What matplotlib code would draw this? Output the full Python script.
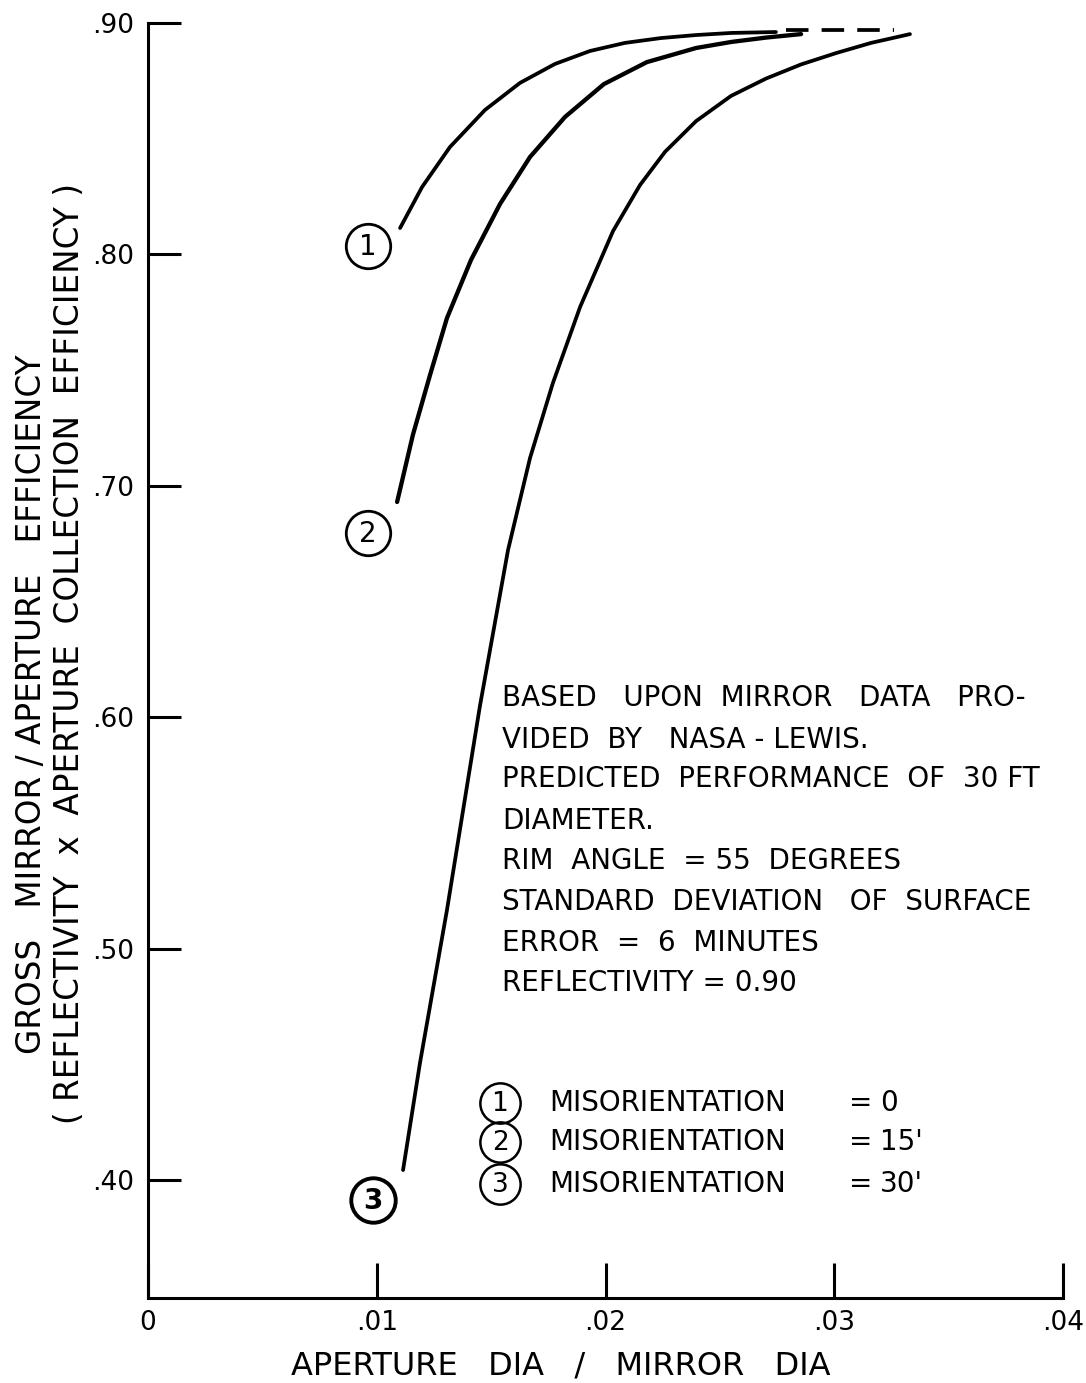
import matplotlib
matplotlib.use("Agg")
import matplotlib.pyplot as plt

# ---------------- data ----------------
curve1_x = [0.01102, 0.01198, 0.01320, 0.01473, 0.01626, 0.01779, 0.01932,
            0.02085, 0.02243, 0.02396, 0.02549, 0.02745]
curve1_y = [0.8114, 0.8291, 0.8464, 0.8624, 0.8741, 0.8823, 0.8879,
            0.8914, 0.8935, 0.8948, 0.8957, 0.8961]

curve2_x = [0.01089, 0.01158, 0.01233, 0.01307, 0.01412, 0.01539, 0.01670,
            0.01823, 0.01993, 0.02181, 0.02396, 0.02549, 0.02702, 0.02855]
curve2_y = [0.6930, 0.7220, 0.7479, 0.7725, 0.7976, 0.8218, 0.8421,
            0.8594, 0.8736, 0.8831, 0.8892, 0.8918, 0.8937, 0.8952]

curve3_x = [0.01115, 0.01189, 0.01307, 0.01451, 0.01574, 0.01670, 0.01770,
            0.01889, 0.02033, 0.02151, 0.02260, 0.02396, 0.02549, 0.02702,
            0.02855, 0.03008, 0.03161, 0.03331]
curve3_y = [0.4043, 0.4506, 0.5167, 0.6048, 0.6723, 0.7120, 0.7444,
            0.7773, 0.8101, 0.8300, 0.8443, 0.8576, 0.8685, 0.8760,
            0.8821, 0.8870, 0.8914, 0.8952]

dash_x = [0.0279, 0.0326]
dash_y = [0.897, 0.897]

x_ticks = [0.0, 0.01, 0.02, 0.03, 0.04]
x_ticklabels = ["0", ".01", ".02", ".03", ".04"]
y_ticks = [0.40, 0.50, 0.60, 0.70, 0.80, 0.90]
y_ticklabels = [".40", ".50", ".60", ".70", ".80", ".90"]

curve_labels = ["1", "2", "3"]
note_lines = [
    "BASED   UPON  MIRROR   DATA   PRO-",
    "VIDED  BY   NASA - LEWIS.",
    "PREDICTED  PERFORMANCE  OF  30 FT",
    "DIAMETER.",
    "RIM  ANGLE  = 55  DEGREES",
    "STANDARD  DEVIATION   OF  SURFACE",
    "ERROR  =  6  MINUTES",
    "REFLECTIVITY = 0.90",
]
legend_names = ["MISORIENTATION", "MISORIENTATION", "MISORIENTATION"]
legend_values = ["0", "15'", "30'"]

x_title = "APERTURE   DIA   /   MIRROR   DIA"
y_title_1 = "GROSS   MIRROR / APERTURE   EFFICIENCY"
y_title_2 = "( REFLECTIVITY  x  APERTURE  COLLECTION  EFFICIENCY )"

# ---------------- figure ----------------
W, H = 1086, 1383
plt.rcParams["font.family"] = ["DejaVu Sans"]
fig = plt.figure(figsize=(W / 100, H / 100), dpi=100)

L, R, T, B = 148, 1063, 23, 1298
ax = fig.add_axes([L / W, 1 - B / H, (R - L) / W, (B - T) / H])
ax.set_xlim(0, 0.04)
ax.set_ylim(0.349, 0.90)

lw = 2.7
ax.plot(curve1_x, curve1_y, color="black", lw=lw, solid_capstyle="round",
        solid_joinstyle="round")
ax.plot(curve2_x, curve2_y, color="black", lw=lw + 0.4, solid_capstyle="round",
        solid_joinstyle="round")
ax.plot(curve3_x, curve3_y, color="black", lw=lw, solid_capstyle="round",
        solid_joinstyle="round")
ax.plot(dash_x, dash_y, color="black", lw=lw, linestyle=(0, (6, 3.5)))

for s in ["top", "right"]:
    ax.spines[s].set_visible(False)
for s in ["left", "bottom"]:
    ax.spines[s].set_linewidth(2.2)

ax.set_xticks(x_ticks)
ax.set_xticklabels(x_ticklabels)
ax.set_yticks(y_ticks)
ax.set_yticklabels(y_ticklabels)
ax.tick_params(axis="x", direction="in", length=25, width=2.2, pad=9, labelsize=19)
ax.tick_params(axis="y", direction="in", length=24, width=2.2, pad=10, labelsize=19)

# overlay in pixel coordinates for annotations
ov = fig.add_axes([0, 0, 1, 1], facecolor="none")
ov.set_xlim(0, W)
ov.set_ylim(H, 0)
ov.axis("off")

# curve labels (circled numbers)
lab_pos = [(368, 246), (368, 533), (373, 1200)]
for (cx, cy), t, bold in zip(lab_pos, curve_labels, [False, False, True]):
    ov.plot([cx], [cy], marker="o", ms=32, mfc="none", mec="black",
            mew=2.8 if bold else 2.0)
    ov.text(cx, cy + 1, t, ha="center", va="center", fontsize=20,
            fontweight="bold" if bold else "normal")

# notes block
note_y = [698, 740, 779, 821, 861, 902, 943, 983]
for yy, line in zip(note_y, note_lines):
    ov.text(502, yy, line, ha="left", va="center", fontsize=20)

# legend block
leg_y = [1103, 1142, 1184]
for yy, t, name, val in zip(leg_y, curve_labels, legend_names, legend_values):
    ov.plot([500], [yy], marker="o", ms=29, mfc="none", mec="black", mew=1.8)
    ov.text(500, yy + 1, t, ha="center", va="center", fontsize=19)
    ov.text(549, yy, name, ha="left", va="center", fontsize=20)
    ov.text(861, yy, "=", ha="center", va="center", fontsize=20)
    ov.text(880, yy, val, ha="left", va="center", fontsize=20)

# axis titles
ov.text(561, 1366, x_title, ha="center", va="center", fontsize=23)
ov.text(32, 704, y_title_1, ha="center", va="center", rotation=90,
        fontsize=23.5)
ov.text(70, 654, y_title_2, ha="center", va="center", rotation=90,
        fontsize=23.5)

fig.savefig("out.png", dpi=100)
